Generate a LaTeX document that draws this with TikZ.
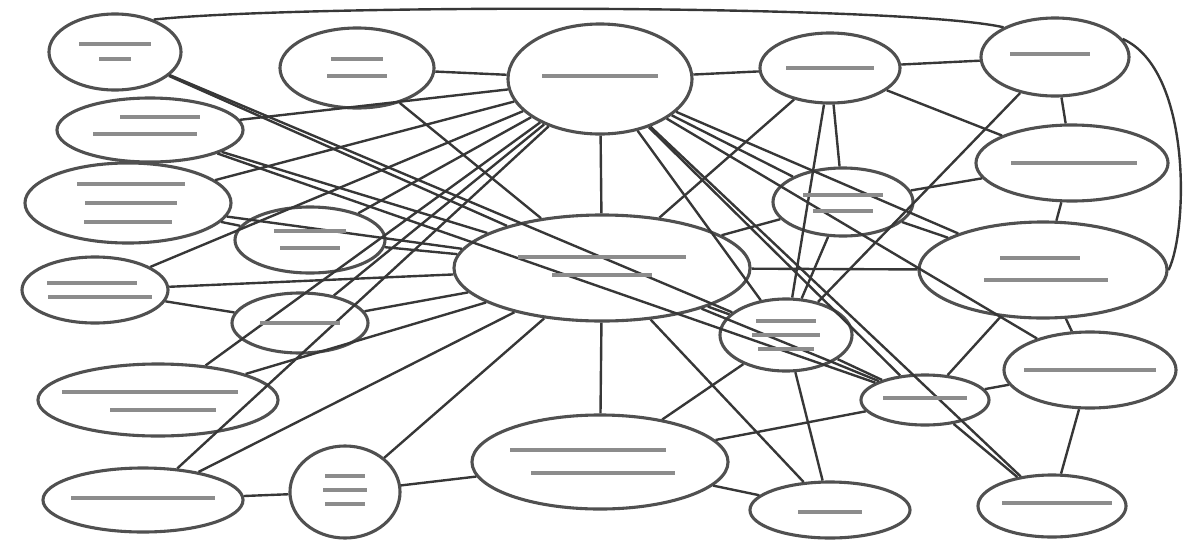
\documentclass[tikz,border=0pt]{standalone}
\usepackage{tikz}
\usetikzlibrary{shapes.geometric,calc}

\definecolor{rimgray}{RGB}{80,80,80}
\definecolor{linkgray}{RGB}{55,55,55}
\definecolor{inkgray}{RGB}{140,140,140}

\tikzset{
  bub/.style 2 args={ellipse, draw=rimgray, line width=2.2pt, fill=white,
    minimum width=#1*0.05cm, minimum height=#2*0.05cm, inner sep=0pt},
  link/.style={draw=linkgray, line width=1.7pt},
  textbar/.style={draw=inkgray, line width=2.6pt}
}
% blurred caption line: node, dx, dy, half length
\newcommand{\tbar}[4]{\draw[textbar] ($(#1)+(#2-#4,#3)$) -- ($(#1)+(#2+#4,#3)$);}

\begin{document}
\begin{tikzpicture}[x=0.025cm,y=-0.025cm]
    \useasboundingbox (0,0) rectangle (1184,547);

    % top row
    \node[bub={66}{38}] (A) at (115,52) {};
    \node[bub={77}{40}] (B) at (357,68) {};
    \node[bub={92}{55}] (C) at (600,79) {};
    \node[bub={70}{35}] (D) at (830,68) {};
    \node[bub={74}{39}] (E) at (1055,57) {};

    % left column
    \node[bub={93}{32}] (F) at (150,130) {};
    \node[bub={103}{40}] (G) at (128,203) {};
    \node[bub={75}{33}] (H) at (310,240) {};
    \node[bub={73}{33}] (I) at (95,290) {};
    \node[bub={68}{30}] (J) at (300,323) {};
    \node[bub={120}{36}] (K) at (158,400) {};
    \node[bub={100}{32}] (L) at (143,500) {};
    \node[bub={55}{46}] (M) at (345,492) {};

    % middle
    \node[bub={148}{53}] (N) at (602,268) {};
    \node[bub={128}{47}] (O) at (600,462) {};

    % right column
    \node[bub={70}{34}] (P) at (843,202) {};
    \node[bub={96}{38}] (Q) at (1072,163) {};
    \node[bub={124}{48}] (R) at (1043,270) {};
    \node[bub={66}{36}] (S) at (786,335) {};
    \node[bub={86}{38}] (T) at (1090,370) {};
    \node[bub={64}{25}] (U) at (925,400) {};
    \node[bub={80}{28}] (V) at (830,510) {};
    \node[bub={74}{31}] (W) at (1052,506) {};

    % spine
    \draw[link] (C) -- (N);
    \draw[link] (N) -- (O);

    % top row links
    \draw[link] (A.40) .. controls (300,4) and (900,4) .. (E.150);
    \draw[link] (E.15) .. controls (1192,70) and (1188,230) .. (R.east);
    \draw[link] (B) -- (C);
    \draw[link] (C) -- (D);
    \draw[link] (D) -- (E);

    % left side into C
    \draw[link] (F) -- (C);
    \draw[link] (G) -- (C);
    \draw[link] (H) -- (C);
    \draw[link] (I) -- (C);
    \draw[link] (J) -- (C);
    \draw[link] (K) -- (C);
    \draw[link] (L) -- (C);

    % left side into N
    \draw[link] (A) -- (N);
    \draw[link] (B) -- (N);
    \draw[link] (F) -- (N);
    \draw[link] (G) -- (N);
    \draw[link] (H) -- (N);
    \draw[link] (I) -- (N);
    \draw[link] (J) -- (N);
    \draw[link] (K) -- (N);
    \draw[link] (L) -- (N);
    \draw[link] (M) -- (N);

    % left side among themselves
    \draw[link] (G) -- (H);
    \draw[link] (I) -- (J);
    \draw[link] (L) -- (M);
    \draw[link] (M) -- (O);
    \draw[link] (A) -- (S);
    \draw[link] (F) -- (U);

    % right side from C
    \draw[link] (C) -- (P);
    \draw[link] (C) -- (R);
    \draw[link] (C) -- (S);
    \draw[link] (C) -- (U);
    \draw[link] (C) -- (T);
    \draw[link] (C) -- (W);

    % right side from D and E
    \draw[link] (D) -- (N);
    \draw[link] (D) -- (P);
    \draw[link] (D) -- (Q);
    \draw[link] (D) -- (S);
    \draw[link] (E) -- (S);
    \draw[link] (E) -- (Q);

    % right side from N and O
    \draw[link] (N) -- (P);
    \draw[link] (N) -- (R);
    \draw[link] (N) -- (S);
    \draw[link] (N) -- (U);
    \draw[link] (N) -- (V);
    \draw[link] (O) -- (S);
    \draw[link] (O) -- (U);
    \draw[link] (O) -- (V);

    % right side among themselves
    \draw[link] (P) -- (Q);
    \draw[link] (P) -- (R);
    \draw[link] (P) -- (S);
    \draw[link] (Q) -- (R);
    \draw[link] (R) -- (T);
    \draw[link] (R) -- (U);
    \draw[link] (S) -- (V);
    \draw[link] (S) -- (U);
    \draw[link] (U) -- (T);
    \draw[link] (U) -- (W);
    \draw[link] (T) -- (W);

    % captions (illegible in the source, kept as grey lines)
    \tbar{A}{0}{-8}{36} \tbar{A}{0}{7}{16}
    \tbar{B}{0}{-9}{26} \tbar{B}{0}{8}{30}
    \tbar{C}{0}{-3}{58}
    \tbar{D}{0}{0}{44}
    \tbar{E}{-5}{-3}{40}
    \tbar{F}{10}{-13}{40} \tbar{F}{-5}{4}{52}
    \tbar{G}{3}{-19}{54} \tbar{G}{3}{0}{46} \tbar{G}{0}{19}{44}
    \tbar{H}{0}{-9}{36} \tbar{H}{0}{8}{30}
    \tbar{I}{-3}{-7}{45} \tbar{I}{5}{7}{52}
    \tbar{J}{0}{0}{40}
    \tbar{K}{-8}{-8}{88} \tbar{K}{5}{10}{53}
    \tbar{L}{0}{-2}{72}
    \tbar{M}{0}{-16}{20} \tbar{M}{0}{-2}{22} \tbar{M}{0}{12}{20}
    \tbar{N}{0}{-11}{84} \tbar{N}{0}{7}{50}
    \tbar{O}{-12}{-12}{78} \tbar{O}{3}{11}{72}
    \tbar{P}{0}{-7}{40} \tbar{P}{0}{9}{30}
    \tbar{Q}{2}{0}{63}
    \tbar{R}{-3}{-12}{40} \tbar{R}{3}{10}{62}
    \tbar{S}{0}{-14}{30} \tbar{S}{0}{0}{34} \tbar{S}{0}{14}{28}
    \tbar{T}{0}{0}{66}
    \tbar{U}{0}{-2}{42}
    \tbar{V}{0}{2}{32}
    \tbar{W}{5}{-3}{55}
  \end{tikzpicture}
\end{document}
